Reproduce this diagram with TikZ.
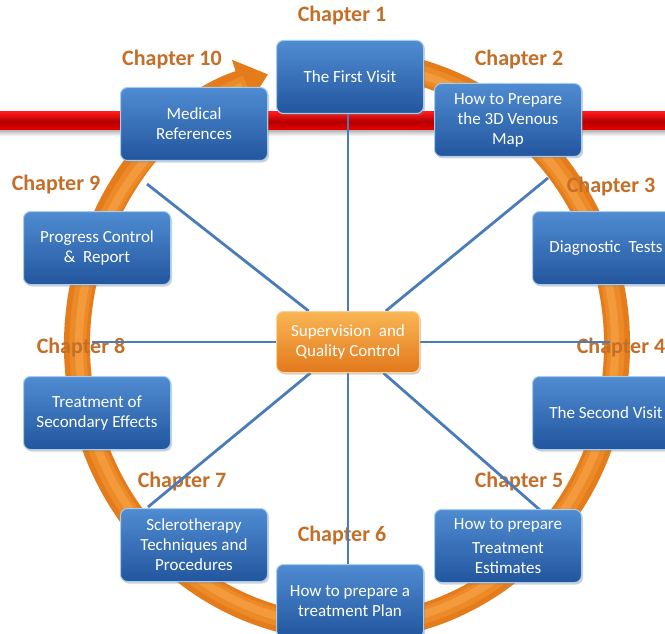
\documentclass[tikz,border=0pt]{standalone}
\usepackage{fontspec}
\setmainfont{Carlito}
\usetikzlibrary{arrows.meta,shadows}
\pgfdeclarelayer{back}
\pgfdeclarelayer{mid}
\pgfsetlayers{back,mid,main}
\definecolor{boxtop}{RGB}{80,140,210}
\definecolor{boxbot}{RGB}{34,86,158}
\definecolor{boxedge}{RGB}{165,205,238}
\definecolor{hubtop}{RGB}{250,182,84}
\definecolor{hubbot}{RGB}{226,120,28}
\definecolor{hubedge}{RGB}{252,208,150}
\definecolor{ringorange}{RGB}{229,124,28}
\definecolor{ringmid}{RGB}{236,138,40}
\definecolor{ringlight}{RGB}{242,154,60}
\definecolor{chapbrown}{RGB}{196,110,40}
\definecolor{spokeblue}{RGB}{74,124,186}
\tikzset{
  chapbox/.style={draw=boxedge, line width=1pt, rounded corners=7pt, top color=boxtop, bottom color=boxbot,
    text=white, align=center, minimum width=147pt, minimum height=73pt,
    font=\fontsize{17}{20}\selectfont, drop shadow={opacity=0.35, shadow xshift=1.5pt, shadow yshift=-2pt}},
  hubbox/.style={chapbox, draw=hubedge, top color=hubtop, bottom color=hubbot, minimum width=143pt, minimum height=61pt},
  chaplabel/.style={text=chapbrown, font=\fontsize{22}{25}\selectfont\bfseries},
  spoke/.style={draw=spokeblue, line width=2.8pt},
  ring/.style={draw=ringorange, line width=26pt}
}

\begin{document}
\begin{tikzpicture}[x=1pt,y=-1pt]
  \clip (0,0) rectangle (665,634);
  % chapters
  \node[chapbox] (c1) at (350,77) {The First Visit};
  \node[chapbox] (c2) at (508,120) {How to Prepare\\the 3D Venous\\Map};
  \node[chapbox] (c3) at (606,248) {Diagnostic~ Tests};
  \node[chapbox] (c4) at (606,413) {The Second Visit};
  \node[chapbox] (c5) at (508,546) {How to prepare\\[4pt]Treatment\\Estimates};
  \node[chapbox] (c6) at (350,601) {How to prepare a\\treatment Plan};
  \node[chapbox] (c7) at (194,545) {Sclerotherapy\\Techniques and\\Procedures};
  \node[chapbox] (c8) at (97,413) {Treatment of\\Secondary Effects};
  \node[chapbox] (c9) at (97,248) {Progress Control\\\&~ Report};
  \node[chapbox] (c10) at (194,124) {Medical\\References};
  \node[hubbox] (hub) at (348,342) {Supervision~ and\\Quality Control};
  % band, ring and labels
  \begin{pgfonlayer}{back}
    \fill[white] (0,0) rectangle (665,634);
    \shade[top color=red!90!white, bottom color=red!95!black, middle color=red!70!black] (0,112) rectangle (665,131);
    \shade[top color=black!25, bottom color=white] (0,131) rectangle (665,136);
    \coordinate (ringc) at (347,345);
    \draw[ring, -{Triangle[length=30pt,width=48pt]}] (ringc) ++(80:270pt and 283pt)
      arc[start angle=80, end angle=-253, x radius=270pt, y radius=283pt];
    \draw[ringmid, line width=17pt] (ringc) ++(78:269pt and 282pt)
      arc[start angle=78, end angle=-248, x radius=269pt, y radius=282pt];
    \draw[ringlight, line width=8pt] (ringc) ++(78:268pt and 281pt)
      arc[start angle=78, end angle=-247, x radius=268pt, y radius=281pt];
    \node[chaplabel] (l1) at (342,16) {Chapter 1};
    \node[chaplabel] (l2) at (519,60) {Chapter 2};
    \node[chaplabel] (l3) at (611,187) {Chapter 3};
    \node[chaplabel] (l4) at (621,348) {Chapter 4};
    \node[chaplabel] (l5) at (519,482) {Chapter 5};
    \node[chaplabel] (l6) at (342,536) {Chapter 6};
    \node[chaplabel] (l7) at (182,482) {Chapter 7};
    \node[chaplabel] (l8) at (81,348) {Chapter 8};
    \node[chaplabel] (l9) at (56,185) {Chapter 9};
    \node[chaplabel] (l10) at (172,60) {Chapter 10};
  \end{pgfonlayer}
  % spokes
  \coordinate (sUL) at (147,184);
  \coordinate (sUR) at (548,178);
  \coordinate (sLL) at (148,507);
  \coordinate (sLR) at (540,510);
  \coordinate (sW) at (92,342);
  \coordinate (sE) at (610,342);
  \begin{pgfonlayer}{mid}
    \draw[spoke] (hub |- c1) -- (hub |- c6);
    \foreach \s in {sUL,sUR,sLL,sLR,sW,sE} {\draw[spoke] (hub) -- (\s);}
  \end{pgfonlayer}
\end{tikzpicture}
\end{document}
